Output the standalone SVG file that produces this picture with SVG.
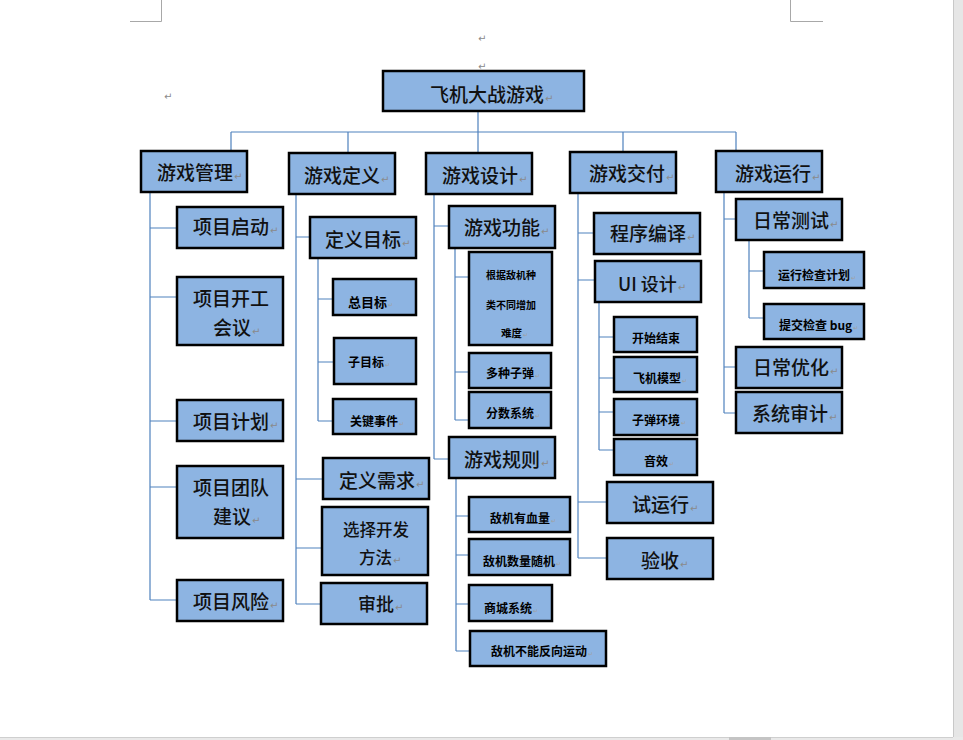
<svg xmlns="http://www.w3.org/2000/svg" width="963" height="740" viewBox="0 0 963 740">
<style>
.bx{fill:#8DB4E2;stroke:#000;stroke-width:2.5}
.t{font-family:"Noto Sans CJK SC","Liberation Sans",sans-serif;font-size:19px;font-weight:500;fill:#111}
.s{font-family:"Noto Sans CJK SC","Liberation Sans",sans-serif;font-size:12px;font-weight:700;fill:#000}
.pm{font-family:"DejaVu Sans",sans-serif;font-size:10px;font-weight:400;fill:#8a8a8a}
.pms{font-family:"DejaVu Sans",sans-serif;font-size:6px;font-weight:400;fill:#a0a0a0}
.cn{fill:none;stroke:#4F81BD;stroke-width:1.2}
.pg{fill:none;stroke:#a8a8a8;stroke-width:1}
</style>
<rect x="0" y="0" width="963" height="740" fill="#fff"/>
<g id="page">
<rect x="953" y="0" width="10" height="740" fill="#e6e6e6"/>
<line x1="953.5" y1="0" x2="953.5" y2="737" stroke="#c8c8c8"/>
<rect x="0" y="737" width="963" height="3" fill="#e9e9e9"/>
<line x1="0" y1="737.5" x2="953" y2="737.5" stroke="#cfcfcf"/>
<rect x="729" y="737" width="42" height="3" fill="#c4c4c4"/>
<path class="pg" d="M130,21.5 H161.5 V0 M823,21.5 H790.5 V0"/>
<text class="pm" x="478" y="42">↵</text>
<text class="pm" x="478" y="70">↵</text>
<text class="pm" x="164" y="100">↵</text>
</g>
<g id="connectors">
<path class="cn" d="M478,111 V132 M231,132 H736 M231,132 V151 M348,132 V153 M478,132 V153 M623,132 V152 M736,132 V151"/>
<path class="cn" d="M150,192 V600 M150,228 H177 M150,297 H177 M150,421 H177 M150,487 H177 M150,600 H177"/>
<path class="cn" d="M296,194 V604 M296,237 H310 M296,479 H323 M296,548 H322 M296,604 H321"/>
<path class="cn" d="M318,258 V421 M318,299 H333 M318,362 H334 M318,421 H333"/>
<path class="cn" d="M434,194 V459 M434,226 H449 M434,459 H449"/>
<path class="cn" d="M455,248 V420 M455,277 H469 M455,372 H469 M455,420 H469"/>
<path class="cn" d="M456,478 V651 M456,516 H469 M456,555 H469 M456,604 H469 M456,651 H470"/>
<path class="cn" d="M578,193 V558 M578,233 H594 M578,280 H595 M578,502 H607 M578,558 H607"/>
<path class="cn" d="M599,302 V450 M599,337 H614 M599,378 H614 M599,412 H614 M599,450 H614"/>
<path class="cn" d="M724,192 V413 M724,219 H736 M724,367 H736 M724,413 H736"/>
<path class="cn" d="M749,240 V318 M749,271 H764 M749,318 H764"/>
</g>
<g id="root"><rect class="bx" x="383" y="71" width="201" height="40"/><text class="t" x="430" y="102">飞机大战游戏<tspan class="pm" dx="1">↵</tspan></text></g>
<g id="n1"><rect class="bx" x="141" y="151" width="106" height="41"/><text class="t" x="157" y="180">游戏管理<tspan class="pm" dx="1">↵</tspan></text></g>
<g id="n2"><rect class="bx" x="289" y="153" width="106" height="41"/><text class="t" x="304" y="183">游戏定义<tspan class="pm" dx="1">↵</tspan></text></g>
<g id="n3"><rect class="bx" x="426" y="153" width="106" height="41"/><text class="t" x="442" y="183">游戏设计<tspan class="pm" dx="1">↵</tspan></text></g>
<g id="n4"><rect class="bx" x="570" y="152" width="106" height="41"/><text class="t" x="589" y="181">游戏交付<tspan class="pm" dx="1">↵</tspan></text></g>
<g id="n5"><rect class="bx" x="716" y="151" width="106" height="41"/><text class="t" x="735" y="181">游戏运行<tspan class="pm" dx="1">↵</tspan></text></g>

<g id="n1a"><rect class="bx" x="177" y="207" width="106" height="41"/><text class="t" x="193" y="234">项目启动<tspan class="pm" dx="1">↵</tspan></text></g>
<g id="n1b"><rect class="bx" x="177" y="277" width="106" height="68"/><text class="t" x="193" y="306">项目开工</text><text class="t" x="213" y="335">会议<tspan class="pm" dx="1">↵</tspan></text></g>
<g id="n1c"><rect class="bx" x="177" y="400" width="106" height="41"/><text class="t" x="193" y="429">项目计划<tspan class="pm" dx="1">↵</tspan></text></g>
<g id="n1d"><rect class="bx" x="177" y="466" width="106" height="72"/><text class="t" x="193" y="495">项目团队</text><text class="t" x="213" y="524">建议<tspan class="pm" dx="1">↵</tspan></text></g>
<g id="n1e"><rect class="bx" x="177" y="580" width="106" height="41"/><text class="t" x="193" y="609">项目风险<tspan class="pm" dx="1">↵</tspan></text></g>

<g id="n2a"><rect class="bx" x="310" y="217" width="106" height="41"/><text class="t" x="325" y="247">定义目标<tspan class="pm" dx="1">↵</tspan></text></g>
<g id="n2a1"><rect class="bx" x="333" y="279" width="83" height="36"/><text class="s" x="348" y="307" style="font-size:13px">总目标<tspan class="pms" dx="1">↵</tspan></text></g>
<g id="n2a2"><rect class="bx" x="334" y="338" width="82" height="46"/><text class="s" x="348" y="367">子目标<tspan class="pms" dx="1">↵</tspan></text></g>
<g id="n2a3"><rect class="bx" x="333" y="399" width="83" height="35"/><text class="s" x="350" y="426">关键事件<tspan class="pms" dx="1">↵</tspan></text></g>
<g id="n2b"><rect class="bx" x="323" y="458" width="106" height="41"/><text class="t" x="339" y="488">定义需求<tspan class="pm" dx="1">↵</tspan></text></g>
<g id="n2c"><rect class="bx" x="322" y="507" width="106" height="68"/><text class="t" x="343" y="536" style="font-size:16.5px">选择开发</text><text class="t" x="359" y="564" style="font-size:16.5px">方法<tspan class="pm" dx="1">↵</tspan></text></g>
<g id="n2d"><rect class="bx" x="321" y="583" width="106" height="41"/><text class="t" x="358" y="611" style="font-size:18px">审批<tspan class="pm" dx="1">↵</tspan></text></g>

<g id="n3a"><rect class="bx" x="449" y="206" width="106" height="42"/><text class="t" x="464" y="235">游戏功能<tspan class="pm" dx="1">↵</tspan></text></g>
<g id="n3a1"><rect class="bx" x="469" y="252" width="83" height="93"/><text class="s" x="486" y="279" style="font-size:10px">根据敌机种</text><text class="s" x="486" y="309" style="font-size:10px">类不同增加</text><text class="s" x="501" y="337" style="font-size:10.5px">难度<tspan class="pms" dx="1">↵</tspan></text></g>
<g id="n3a2"><rect class="bx" x="469" y="353" width="82" height="35"/><text class="s" x="486" y="378">多种子弹<tspan class="pms" dx="1">↵</tspan></text></g>
<g id="n3a3"><rect class="bx" x="469" y="392" width="82" height="36"/><text class="s" x="486" y="418">分数系统<tspan class="pms" dx="1">↵</tspan></text></g>
<g id="n3b"><rect class="bx" x="449" y="437" width="106" height="41"/><text class="t" x="464" y="467">游戏规则<tspan class="pm" dx="1">↵</tspan></text></g>
<g id="n3b1"><rect class="bx" x="469" y="497" width="101" height="35"/><text class="s" x="490" y="523">敌机有血量<tspan class="pms" dx="1">↵</tspan></text></g>
<g id="n3b2"><rect class="bx" x="469" y="539" width="101" height="36"/><text class="s" x="483" y="566">敌机数量随机<tspan class="pms" dx="1">↵</tspan></text></g>
<g id="n3b3"><rect class="bx" x="469" y="585" width="83" height="36"/><text class="s" x="484" y="613">商城系统<tspan class="pms" dx="1">↵</tspan></text></g>
<g id="n3b4"><rect class="bx" x="470" y="631" width="136" height="35"/><text class="s" x="491" y="656">敌机不能反向运动<tspan class="pms" dx="1">↵</tspan></text></g>

<g id="n4a"><rect class="bx" x="594" y="213" width="106" height="41"/><text class="t" x="610" y="241">程序编译<tspan class="pm" dx="1">↵</tspan></text></g>
<g id="n4b"><rect class="bx" x="595" y="261" width="106" height="41"/><text class="t" x="618" y="291" style="font-size:18px">UI 设计<tspan class="pm" dx="1">↵</tspan></text></g>
<g id="n4b1"><rect class="bx" x="614" y="317" width="83" height="35"/><text class="s" x="632" y="343">开始结束</text></g>
<g id="n4b2"><rect class="bx" x="614" y="357" width="83" height="35"/><text class="s" x="633" y="383">飞机模型<tspan class="pms" dx="1">↵</tspan></text></g>
<g id="n4b3"><rect class="bx" x="614" y="399" width="83" height="36"/><text class="s" x="632" y="425">子弹环境<tspan class="pms" dx="1">↵</tspan></text></g>
<g id="n4b4"><rect class="bx" x="614" y="439" width="83" height="36"/><text class="s" x="644" y="466">音效<tspan class="pms" dx="1">↵</tspan></text></g>
<g id="n4c"><rect class="bx" x="607" y="482" width="106" height="41"/><text class="t" x="632" y="512">试运行<tspan class="pm" dx="1">↵</tspan></text></g>
<g id="n4d"><rect class="bx" x="607" y="538" width="106" height="41"/><text class="t" x="641" y="568">验收<tspan class="pm" dx="1">↵</tspan></text></g>

<g id="n5a"><rect class="bx" x="736" y="199" width="106" height="41"/><text class="t" x="753" y="228">日常测试<tspan class="pm" dx="1">↵</tspan></text></g>
<g id="n5a1"><rect class="bx" x="764" y="252" width="100" height="36"/><text class="s" x="778" y="280">运行检查计划<tspan class="pms" dx="1">↵</tspan></text></g>
<g id="n5a2"><rect class="bx" x="764" y="304" width="100" height="35"/><text class="s" x="779" y="330">提交检查 bug<tspan class="pms" dx="1">↵</tspan></text></g>
<g id="n5b"><rect class="bx" x="736" y="347" width="106" height="41"/><text class="t" x="753" y="375">日常优化<tspan class="pm" dx="1">↵</tspan></text></g>
<g id="n5c"><rect class="bx" x="736" y="392" width="106" height="41"/><text class="t" x="752" y="421">系统审计<tspan class="pm" dx="1">↵</tspan></text></g>
</svg>
